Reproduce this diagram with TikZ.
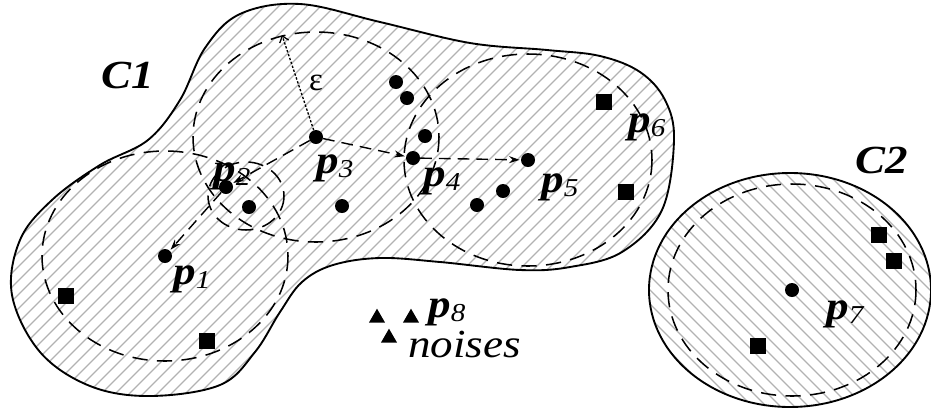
\documentclass[tikz,border=0pt]{standalone}
\usepackage{fontspec}
\setmainfont{Liberation Serif}
\usetikzlibrary{shapes.geometric,arrows.meta}

\newcommand{\psub}[1]{\raisebox{-0.12em}{\fontsize{22}{22}\selectfont\mdseries #1}}

\begin{document}
\begin{tikzpicture}[
  x=0.03cm, y=-0.03cm,
  outline/.style = {draw=black, line width=1.6pt},
  hatch/.style   = {draw=black!30, line width=1.1pt},
  reach/.style   = {draw=black, line width=1.3pt, dash pattern=on 13pt off 8pt},
  core/.style    = {circle, fill=black, inner sep=0pt, minimum size=0.42cm},
  edge/.style    = {rectangle, fill=black, inner sep=0pt, minimum size=0.48cm},
  noise/.style   = {regular polygon, regular polygon sides=3, fill=black,
                    inner sep=0pt, minimum size=0.56cm},
  lbl/.style     = {inner sep=0pt, anchor=base west, xscale=1.13,
                    font=\fontsize{34}{34}\selectfont\bfseries\itshape},
  arr/.style     = {-{Stealth[length=9pt,width=6pt]}, line width=1.2pt,
                    dash pattern=on 10pt off 6pt, shorten >=1pt},
  epsarr/.style  = {-{Straight Barb[length=5pt,width=8pt]}, line width=1.1pt,
                    dash pattern=on 2pt off 1.5pt}
]
\useasboundingbox (0,0) rectangle (931,411);

%% Cluster outlines with hatching
\draw[outline, path picture={
    \foreach \i in {-420,-406,...,700} \draw[hatch] (\i,411) -- ++(411,-411);}]
  plot[smooth cycle, tension=0.6] coordinates {
    (300,4) (380,22) (470,43) (547,50) (600,56) (640,72) (665,100) (674,140)
    (662,210) (622,252) (570,267) (520,270) (440,262) (380,258) (333,265)
    (302,282) (280,312) (255,352) (220,385) (150,396) (90,386) (40,352)
    (12,295) (20,240) (52,200) (100,165) (148,140) (180,100) (205,48) (240,14)};
\draw[outline, path picture={
    \foreach \i in {220,234,...,940} \draw[hatch] (\i,0) -- ++(411,411);}]
  (790,290) ellipse [x radius=141, y radius=117];

%% Points of C1
\node[core] (p1) at (165,256) {};
\node[core] (p2) at (226,187) {};
\node[core] (p3) at (316,137) {};
\node[core] (p4) at (413,158) {};
\node[core] (p5) at (528,160) {};
\node[core] (d1) at (396,82)  {};
\node[core] (d2) at (407,98)  {};
\node[core] (d3) at (425,136) {};
\node[core] (d4) at (249,207) {};
\node[core] (d5) at (342,206) {};
\node[core] (d6) at (477,205) {};
\node[core] (d7) at (503,191) {};
\node[edge] (p6) at (604,102) {};
\node[edge] (s1) at (626,192) {};
\node[edge] (s2) at (66,296)  {};
\node[edge] (s3) at (207,341) {};

%% Points of C2
\node[core] (p7) at (792,290) {};
\node[edge] (s4) at (879,235) {};
\node[edge] (s5) at (894,261) {};
\node[edge] (s6) at (758,346) {};

%% Noise
\node[noise] (n1) at (377,318) {};
\node[noise] (p8) at (411,318) {};
\node[noise] (n2) at (389,338) {};

%% Eps-neighbourhoods
\draw[reach] (p1) ellipse [x radius=123, y radius=105];
\draw[reach] (p3) ellipse [x radius=123, y radius=105];
\draw[reach] (p5) ellipse [x radius=124, y radius=106];
\draw[reach] (246,196) ellipse [x radius=38, y radius=34];
\draw[reach] (p7) ellipse [x radius=124, y radius=106];

%% Reachability chain
\coordinate (epstip) at (282,35);
\draw[epsarr] (p3) -- (epstip);
\draw[arr] (p3) -- (p2);
\draw[arr] (p2) -- (p1);
\draw[arr] (p3) -- (p4);
\draw[arr] (p4) -- (p5);

%% Labels
\node[lbl] (c1lbl) at (101,88)  {C1};
\node[lbl] (c2lbl) at (855,173) {C2};
\node[lbl] (p1lbl) at (173,284) {p\psub{1}};
\node[lbl] (p2lbl) at (213,181) {p\psub{2}};
\node[lbl] (p3lbl) at (316,173) {p\psub{3}};
\node[lbl] (p4lbl) at (423,186) {p\psub{4}};
\node[lbl] (p5lbl) at (541,192) {p\psub{5}};
\node[lbl] (p6lbl) at (628,132) {p\psub{6}};
\node[lbl] (p7lbl) at (826,319) {p\psub{7}};
\node[lbl] (p8lbl) at (428,317) {p\psub{8}};
\node[lbl, font=\fontsize{34}{34}\selectfont\itshape] (noiselbl) at (408,357) {noises};
\node[font=\fontsize{28}{28}\selectfont] (epslbl) at (316,83) {ε};
\end{tikzpicture}
\end{document}
